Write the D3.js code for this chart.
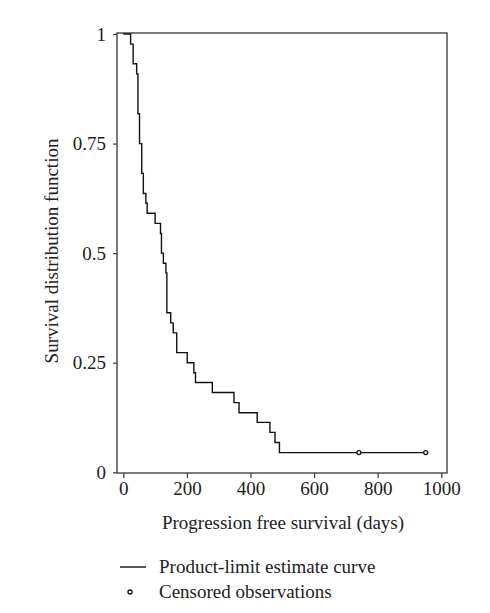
<!DOCTYPE html>
<html>
<head>
<meta charset="utf-8">
<script src="https://cdn.jsdelivr.net/npm/d3@7"></script>
<style>
  html, body { margin: 0; padding: 0; background: #fff; }
  svg { display: block; }
  text { font-family: "Liberation Serif", "DejaVu Serif", serif; fill: #222; }
</style>
</head>
<body>
<svg id="chart" width="490" height="613"></svg>
<script>
// Step points of the product-limit (Kaplan-Meier) curve
const stepDays     = [0, 23, 31, 42, 46, 51, 58, 63, 71, 75, 100, 117, 120, 126, 134, 137, 149, 157, 168, 201, 222, 227, 280, 348, 364, 421, 461, 477, 491];
const stepSurvival = [1, 0.977, 0.932, 0.909, 0.818, 0.750, 0.682, 0.636, 0.614, 0.591, 0.568, 0.545, 0.500, 0.477, 0.455, 0.364, 0.341, 0.318, 0.273, 0.250, 0.227, 0.205, 0.182, 0.159, 0.136, 0.114, 0.091, 0.068, 0.045];
const curveEndDay = 951;
const censoredDays = [741, 951];
const censoredSurvival = [0.045, 0.045];
const xTicks = [0, 200, 400, 600, 800, 1000];
const yTicks = [0, 0.25, 0.5, 0.75, 1];
const yTickLabels = ["0", "0.25", "0.5", "0.75", "1"];
const xLabel = "Progression free survival (days)";
const yLabel = "Survival distribution function";
const legendLabels = ["Product-limit estimate curve", "Censored observations"];

const svg = d3.select("#chart");
const box = { left: 117, right: 447, top: 33, bottom: 473 };
const FS = 19;

const x = d3.scaleLinear().domain([0, 1000]).range([123.3, 441.3]);
const y = d3.scaleLinear().domain([0, 1]).range([472.3, 34]);

// Plot frame
svg.append("rect")
  .attr("x", box.left).attr("y", box.top)
  .attr("width", box.right - box.left).attr("height", box.bottom - box.top)
  .attr("fill", "none").attr("stroke", "#444").attr("stroke-width", 1.4);

// X axis (ticks outward below frame)
const xAxis = d3.axisBottom(x).tickValues(xTicks).tickSize(5).tickPadding(4).tickFormat(d3.format("d"));
const gx = svg.append("g").attr("transform", `translate(0,${box.bottom})`).call(xAxis);
gx.select(".domain").remove();
gx.selectAll(".tick line").attr("stroke", "#444").attr("stroke-width", 1.3);
gx.selectAll(".tick text").attr("font-size", FS).attr("fill", "#222")
  .style("font-family", "'Liberation Serif', serif");

// Y axis (ticks outward left of frame)
const yAxis = d3.axisLeft(y).tickValues(yTicks).tickSize(4).tickPadding(7)
  .tickFormat((d, i) => yTickLabels[i]);
const gy = svg.append("g").attr("transform", `translate(${box.left},0)`).call(yAxis);
gy.select(".domain").remove();
gy.selectAll(".tick line").attr("stroke", "#444").attr("stroke-width", 1.3);
gy.selectAll(".tick text").attr("font-size", FS).attr("fill", "#222")
  .style("font-family", "'Liberation Serif', serif");

// Axis titles
svg.append("text")
  .attr("x", 283).attr("y", 529)
  .attr("text-anchor", "middle").attr("font-size", FS)
  .text(xLabel);
svg.append("text")
  .attr("transform", "translate(58,251) rotate(-90)")
  .attr("text-anchor", "middle").attr("font-size", FS)
  .text(yLabel);

// Survival step curve
const pts = stepDays.map((d, i) => [d, stepSurvival[i]]);
pts.push([curveEndDay, stepSurvival[stepSurvival.length - 1]]);
const line = d3.line().x(d => x(d[0])).y(d => y(d[1])).curve(d3.curveStepAfter);
svg.append("path")
  .attr("d", line(pts))
  .attr("fill", "none").attr("stroke", "#111").attr("stroke-width", 1.4);

// Censored observations
svg.selectAll("circle.cens")
  .data(censoredDays.map((d, i) => [d, censoredSurvival[i]]))
  .enter().append("circle")
  .attr("class", "cens")
  .attr("cx", d => x(d[0])).attr("cy", d => y(d[1])).attr("r", 2)
  .attr("fill", "#fff").attr("stroke", "#111").attr("stroke-width", 1.3);

// Legend
svg.append("line")
  .attr("x1", 120).attr("x2", 146).attr("y1", 567).attr("y2", 567)
  .attr("stroke", "#111").attr("stroke-width", 1.4);
svg.append("text").attr("x", 159).attr("y", 573).attr("font-size", FS).text(legendLabels[0]);
svg.append("circle")
  .attr("cx", 130).attr("cy", 592).attr("r", 2)
  .attr("fill", "#fff").attr("stroke", "#111").attr("stroke-width", 1.3);
svg.append("text").attr("x", 159).attr("y", 598).attr("font-size", FS).text(legendLabels[1]);
</script>
</body>
</html>
